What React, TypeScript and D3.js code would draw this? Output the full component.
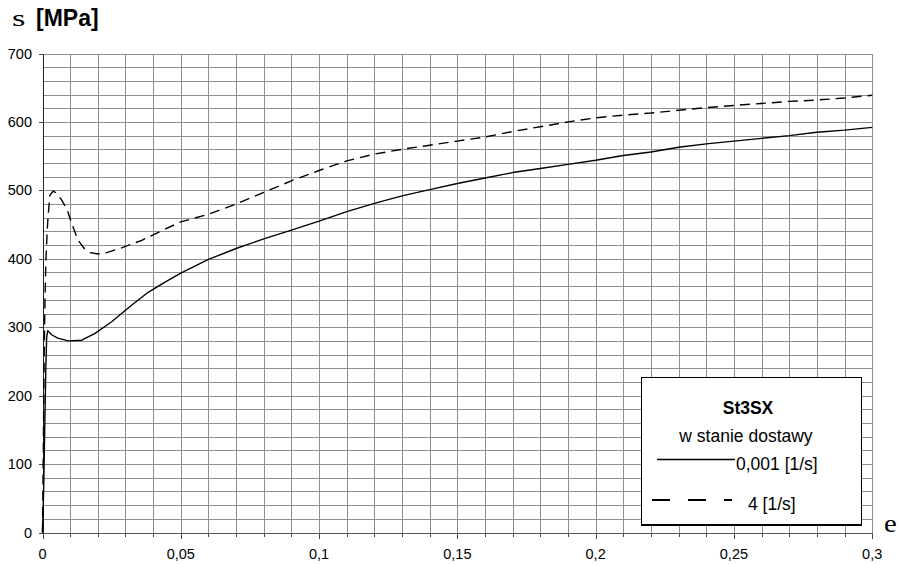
import React from "react";
import * as d3 from "d3";

const strainSlow = [0, 0.0004, 0.0008, 0.0012, 0.0015, 0.0019, 0.0033, 0.0055, 0.0093, 0.0142, 0.019, 0.025, 0.0322, 0.0382, 0.0443, 0.05, 0.06, 0.07, 0.08, 0.09, 0.1, 0.11, 0.12, 0.13, 0.14, 0.15, 0.16, 0.17, 0.18, 0.19, 0.2, 0.21, 0.22, 0.23, 0.24, 0.25, 0.26, 0.27, 0.28, 0.29, 0.3];
const stressSlow = [0, 60, 150, 240, 285, 295, 289, 284, 280, 281, 291, 308, 332, 351, 366, 379, 399, 415, 429, 442, 455, 469, 481, 492, 501, 510, 518, 526, 532, 538, 544, 551, 556, 563, 568, 572, 576, 580, 585, 588, 592];

const strainFast = [0, 0.0003, 0.0006, 0.0009, 0.0012, 0.0017, 0.0021, 0.0027, 0.0039, 0.0051, 0.0069, 0.009, 0.0105, 0.0129, 0.0151, 0.0172, 0.0202, 0.0232, 0.0286, 0.0359, 0.0431, 0.05, 0.06, 0.07, 0.08, 0.09, 0.1, 0.11, 0.12, 0.13, 0.14, 0.15, 0.16, 0.17, 0.18, 0.19, 0.2, 0.21, 0.22, 0.23, 0.24, 0.25, 0.26, 0.27, 0.28, 0.29, 0.3];
const stressFast = [0, 120, 260, 340, 394, 442, 466, 493, 499, 496, 486, 471, 452, 427, 415, 409, 407, 409, 416, 427, 441, 454, 465, 480, 497, 514, 529, 543, 553, 560, 566, 572, 578, 586, 593, 600, 606, 610, 613, 617, 621, 624, 627, 630, 632, 635, 639];

const xTicks = [0, 0.05, 0.1, 0.15, 0.2, 0.25, 0.3];
const xTickLabels = ["0", "0,05", "0,1", "0,15", "0,2", "0,25", "0,3"];
const yTicks = [0, 100, 200, 300, 400, 500, 600, 700];

const legendTitle = "St3SX";
const legendSub = "w stanie dostawy";
const seriesNames = ["0,001 [1/s]", "4 [1/s]"];

export default function App() {
  const W = 900, H = 564;
  const x = d3.scaleLinear().domain([0, 0.3]).range([42.5, 872.2]);
  const y = d3.scaleLinear().domain([0, 700]).range([532.5, 53.5]);
  const r = (v: number) => Math.round(v) + 0.5;

  const vGrid = d3.range(0, 31).map((i) => i * 0.01);
  const hGrid = d3.range(0, 36).map((i) => i * 20);

  const line = d3
    .line<[number, number]>()
    .x((d) => x(d[0]))
    .y((d) => y(d[1]));
  const slow = line(strainSlow.map((v, i) => [v, stressSlow[i]] as [number, number]));
  const fast = line(strainFast.map((v, i) => [v, stressFast[i]] as [number, number]));

  const sans = "'Liberation Sans', Arial, sans-serif";
  const serif = "'Liberation Serif', 'Times New Roman', serif";

  return (
    <svg width={W} height={H} style={{ position: "absolute", left: 0, top: 0, background: "#fff" }}>
      <rect x={0} y={0} width={W} height={H} fill="#fff" />
      {/* grid */}
      <g shapeRendering="crispEdges" stroke="#8f8f8f" strokeWidth={1}>
        {vGrid.map((v, i) => (
          <line key={"v" + i} x1={r(x(v))} x2={r(x(v))} y1={r(y(700))} y2={r(y(0))} />
        ))}
        {hGrid.map((v, i) => (
          <line key={"h" + i} x1={r(x(0))} x2={r(x(0.3))} y1={r(y(v))} y2={r(y(v))} />
        ))}
      </g>
      {/* ticks */}
      <g shapeRendering="crispEdges" stroke="#444" strokeWidth={1}>
        {vGrid.map((v, i) => (
          <line key={"mt" + i} x1={r(x(v))} x2={r(x(v))} y1={r(y(0))} y2={r(y(0)) + 3} />
        ))}
        {xTicks.map((v, i) => (
          <line key={"xt" + i} x1={r(x(v))} x2={r(x(v))} y1={r(y(0))} y2={r(y(0)) + 5} />
        ))}
        {yTicks.map((v, i) => (
          <line key={"yt" + i} x1={r(x(0)) - 5} x2={r(x(0))} y1={r(y(v))} y2={r(y(v))} />
        ))}
      </g>
      {/* axes */}
      <line x1={r(x(0))} x2={r(x(0.3))} y1={r(y(0))} y2={r(y(0))} stroke="#555" strokeWidth={1.5} shapeRendering="crispEdges" />
      <line x1={r(x(0))} x2={r(x(0))} y1={r(y(700))} y2={r(y(0))} stroke="#222" strokeWidth={1.5} shapeRendering="crispEdges" />
      {/* tick labels */}
      <g fontFamily={sans} fontSize={14.5} fill="#000">
        {xTicks.map((v, i) => (
          <text key={"xl" + i} x={x(v)} y={558.5} textAnchor="middle">
            {xTickLabels[i]}
          </text>
        ))}
        {yTicks.map((v, i) => (
          <text key={"yl" + i} x={32} y={y(v) + 5} textAnchor="end">
            {v}
          </text>
        ))}
      </g>
      {/* curves */}
      <path d={slow || ""} fill="none" stroke="#000" strokeWidth={1.4} strokeLinejoin="round" />
      <path d={fast || ""} fill="none" stroke="#000" strokeWidth={1.4} strokeDasharray="10,6" strokeLinejoin="round" />
      {/* axis titles */}
      <text transform="translate(12,26) scale(1.5,1)" fontFamily={serif} fontSize={23} fill="#000">s</text>
      <text x={36} y={25.7} fontFamily={sans} fontSize={23} fontWeight="bold" fill="#000">[MPa]</text>
      <text transform="translate(884,531.5) scale(1.15,1)" fontFamily={serif} fontSize={25} fill="#000">e</text>
      {/* legend */}
      <rect x={641.5} y={377.5} width={220} height={147.5} fill="#fff" stroke="#000" strokeWidth={1.2} shapeRendering="crispEdges" />
      <text x={748} y={414} textAnchor="middle" fontFamily={sans} fontSize={17.5} fontWeight="bold">{legendTitle}</text>
      <text x={746} y={442} textAnchor="middle" fontFamily={sans} fontSize={17.5}>{legendSub}</text>
      <line x1={657} x2={735} y1={459.5} y2={459.5} stroke="#000" strokeWidth={1.6} />
      <text x={736} y={470} fontFamily={sans} fontSize={17.5}>{seriesNames[0]}</text>
      <line x1={652} x2={732} y1={500} y2={500} stroke="#000" strokeWidth={1.8} strokeDasharray="18,18" />
      <text x={748} y={509.5} fontFamily={sans} fontSize={17.5}>{seriesNames[1]}</text>
    </svg>
  );
}
